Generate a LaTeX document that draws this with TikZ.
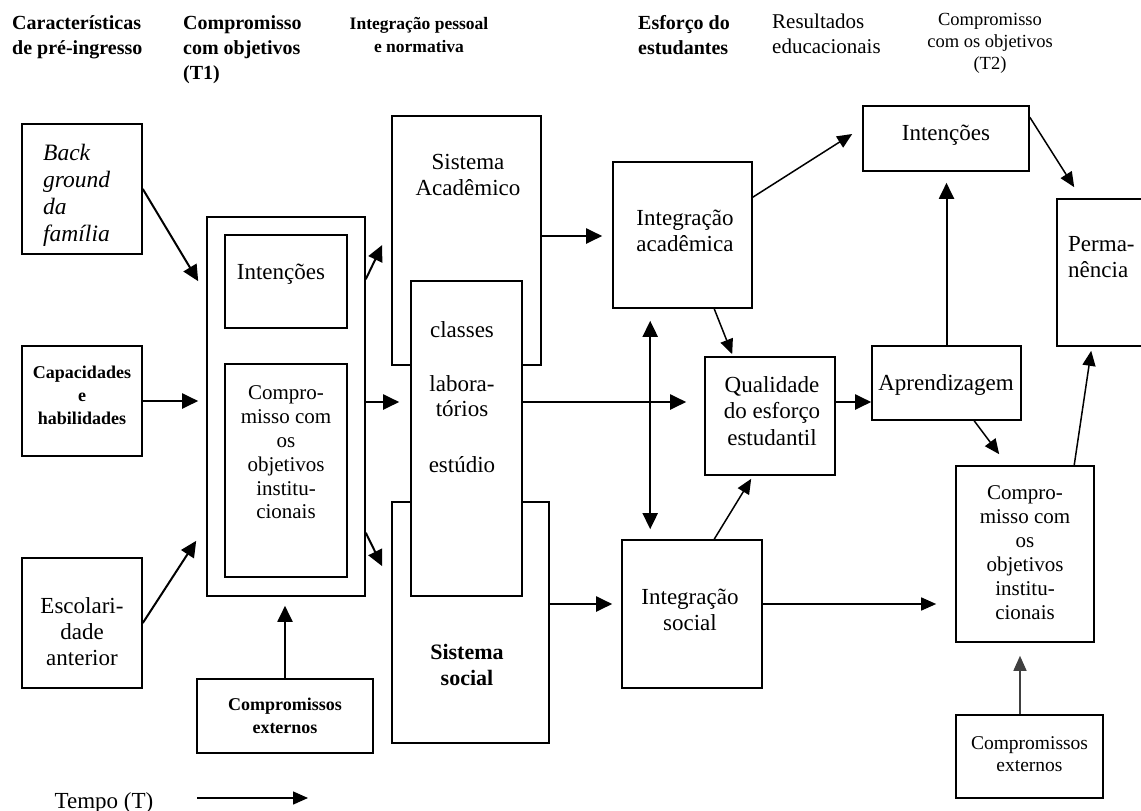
\documentclass[tikz,border=0pt]{standalone}
\usepackage{fontspec}
\setmainfont{Liberation Serif}
\usetikzlibrary{arrows.meta,calc}
\newcommand\fsz[2]{\fontsize{#1}{#2}\selectfont}

\begin{document}
\begin{tikzpicture}[x=1pt,y=-1pt,
  box/.style={draw, line width=1.6pt, fill=white, inner sep=0pt},
  lbl/.style={inner sep=0pt, align=center, font=\fsz{23}{26.5}},
  small/.style={inner sep=0pt, align=center, font=\fsz{21}{24}},
  head/.style={inner sep=0pt, align=left, anchor=north west, font=\bfseries\fsz{20}{25}},
  arr/.style={line width=2pt, -{Triangle[length=16pt,width=15pt]}},
  thinarr/.style={line width=1.5pt, -{Triangle[length=15pt,width=13pt]}}
]
\useasboundingbox (0,0) rectangle (1141,811);

% column headings
\node[head] (h1) at (12,15) {Características\\de pré-ingresso};
\node[head] (h2) at (183,15) {Compromisso\\com objetivos\\(T1)};
\node[inner sep=0pt, align=center, anchor=north, font=\bfseries\fsz{17.5}{23}] (h3) at (419,17) {Integração pessoal\\e normativa};
\node[head] (h4) at (638,15) {Esforço do\\estudantes};
\node[head, font=\fsz{21}{25}] (h5) at (772,14) {Resultados\\educacionais};
\node[inner sep=0pt, align=center, anchor=north, font=\fsz{18.5}{22}] (h6) at (990,13) {Compromisso\\com os objetivos\\(T2)};

% pre-entry characteristics
\node[box, minimum width=120pt, minimum height=130pt] (bg) at (82,189) {};
\node[inner sep=0pt, align=left, anchor=north west, font=\itshape\fsz{23.5}{27}] (bgt) at (43,144) {Back\\ground\\da\\família};
\node[box, minimum width=120pt, minimum height=110pt] (cap) at (82,401) {};
\node[inner sep=0pt, align=center, font=\bfseries\fsz{18}{23}] (capt) at (82,395) {Capacidades\\e\\habilidades};
\node[box, minimum width=120pt, minimum height=130pt] (esc) at (82,623) {};
\node[lbl, font=\fsz{23}{26}] (esct) at (82,632) {Escolari-\\dade\\anterior};

% goal commitment T1
\node[box, minimum width=158pt, minimum height=379pt] (outer) at (286,406.5) {};
\node[box, minimum width=122pt, minimum height=93pt] (inInt) at (286,281.5) {};
\node[lbl] (inIntt) at (281,274) {Intenções};
\node[box, minimum width=122pt, minimum height=213pt] (inComp) at (286,470.5) {};
\node[small, font=\fsz{21}{23.8}] (inCompt) at (286,452.5) {Compro-\\misso com\\os\\objetivos\\institu-\\cionais};
\node[box, minimum width=176pt, minimum height=74pt] (extL) at (285,716) {};
\node[inner sep=0pt, align=center, font=\bfseries\fsz{18}{23}] (extLt) at (285,716) {Compromissos\\externos};

% institutional systems
\node[box, minimum width=149pt, minimum height=249pt] (sac) at (466.5,240.5) {};
\node[lbl] (sact) at (468,175) {Sistema\\Acadêmico};
\node[box, minimum width=157pt, minimum height=241pt] (ssoc) at (470.5,622.5) {};
\node[lbl, font=\bfseries\fsz{22}{26.5}] (ssoct) at (467,665) {Sistema\\social};
\node[box, minimum width=111pt, minimum height=315pt] (cls) at (466.5,438.5) {};
\node[lbl, font=\fsz{23}{25}] (clst) at (462,397) {classes\\[29pt]labora-\\tórios\\[31pt]estúdio};

% student effort
\node[box, minimum width=139pt, minimum height=146pt] (iac) at (682.5,235) {};
\node[lbl] (iact) at (685,231) {Integração\\acadêmica};
\node[box, minimum width=130pt, minimum height=118pt] (qual) at (770,416) {};
\node[lbl] (qualt) at (772,411) {Qualidade\\do esforço\\estudantil};
\node[box, minimum width=140pt, minimum height=148pt] (isoc) at (692,614) {};
\node[lbl] (isoct) at (690,610) {Integração\\social};

% outcomes
\node[box, minimum width=166pt, minimum height=65pt] (intR) at (946,138.5) {};
\node[lbl] (intRt) at (946,135) {Intenções};
\node[box, minimum width=149pt, minimum height=74pt] (aprend) at (946.5,383) {};
\node[lbl] (aprendt) at (946,385) {Aprendizagem};
% this box runs past the right edge of the page
\node[box, minimum width=92pt, minimum height=147pt] (perm) at (1103,272.5) {};
\node[lbl, align=left, anchor=west] (permt) at (1068,257) {Perma-\\nência};
\node[box, minimum width=138pt, minimum height=176pt] (compR) at (1025,554) {};
\node[small, font=\fsz{21}{24}] (compRt) at (1025,553) {Compro-\\misso com\\os\\objetivos\\institu-\\cionais};
\node[box, minimum width=147pt, minimum height=83pt] (extR) at (1029.5,756.5) {};
\node[inner sep=0pt, align=center, font=\fsz{19.5}{22}] (extRt) at (1029.5,754) {Compromissos\\externos};

% time axis
\node[inner sep=0pt, anchor=base, font=\fsz{23}{26}] (tempo) at (104,808) {Tempo (T)};
\coordinate (t0) at (197,798);
\coordinate (t1) at (308,798);

% connectors into the T1 block
\draw[arr] (bg.east) -- ($(outer.north west)+(-8,65)$);
\draw[arr, shorten >=8pt] (cap.east) -- (cap.east -| outer.west);
\draw[arr] (esc.east) -- ($(outer.south west)+(-10,-56)$);
\draw[arr, shorten >=9pt] (extL.north) -- (extL.north |- outer.south);

% T1 block to the institutional systems
\draw[arr] ($(outer.north east)+(0,63)$) -- ($(sac.west)+(-9,4.5)$);
\draw[arr, shorten >=11pt] ($(outer.east)+(0,-4.5)$) -- ($(cls.west |- outer.east)+(0,-4.5)$);
\draw[arr] ($(outer.south east)+(0,-64)$) -- ($(ssoc.north west)+(-9,65)$);

% systems to integration
\draw[arr, shorten >=10pt] ($(sac.east)+(0,-4.5)$) -- ($(iac.west |- sac.east)+(0,-4.5)$);
\draw[arr, shorten >=18pt] ($(cls.east)+(0,-36.5)$) -- ($(qual.west |- cls.east)+(0,-36.5)$);
\draw[arr, shorten >=9pt] ($(ssoc.east)+(0,-18.5)$) -- ($(isoc.west |- ssoc.east)+(0,-18.5)$);

\draw[line width=2pt, {Triangle[length=16pt,width=15pt]}-{Triangle[length=16pt,width=15pt]}]
  ($(iac.south west)+(38,12)$) -- ($(isoc.north west)+(29,-10)$);
\draw[thinarr] ($(iac.south west)+(102,0)$) -- ($(qual.north west)+(28,-2)$);
\draw[thinarr] ($(isoc.north west)+(93,0)$) -- ($(qual.south west)+(47,3)$);
\draw[thinarr] ($(iac.north east)+(0,36)$) -- ($(intR.west)+(-10,-4.5)$);
\draw[thinarr, shorten >=19pt] ($(isoc.east)+(0,-10)$) -- ($(compR.west |- isoc.east)+(0,-10)$);

% outcomes
\draw[arr] ($(qual.east)+(0,-14)$) -- ($(aprend.west |- qual.east)+(0,-14)$);
\draw[arr, shorten >=11pt] (aprend.north) -- (aprend.north |- intR.south);
\draw[thinarr] ($(aprend.south west)+(103,0)$) -- ($(compR.north west)+(44,-11)$);
\draw[thinarr] ($(intR.north east)+(0,12)$) -- ($(perm.north west)+(18,-11)$);
\draw[thinarr] ($(compR.north west)+(119,0)$) -- ($(perm.south west)+(35,4)$);
\draw[thinarr, draw=black!75, shorten >=13pt] ($(extR.north)+(-9.5,0)$) -- ($(compR.south -| extR.north)+(-9.5,0)$);

\draw[thinarr] (t0) -- (t1);
\end{tikzpicture}
\end{document}
